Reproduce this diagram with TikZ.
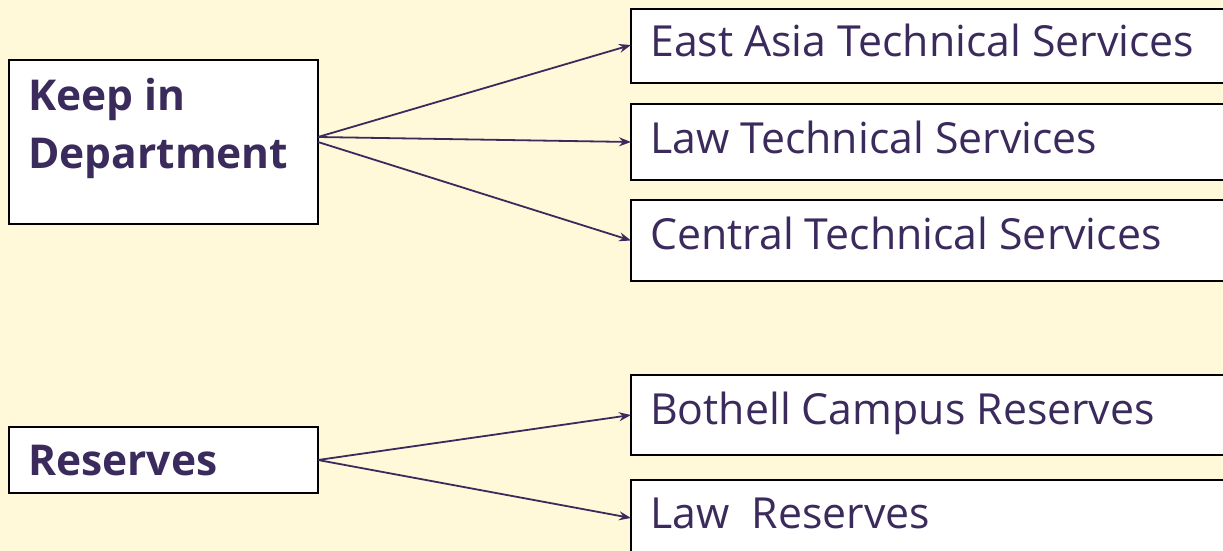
\documentclass[tikz,border=0pt]{standalone}
\usepackage{fontspec}
\setmainfont{Open Sans}
\usetikzlibrary{arrows.meta}
\definecolor{bg}{HTML}{FFF9D9}
\definecolor{ink}{HTML}{3B2A5C}
\tikzset{
  box/.style={draw=black, line width=1.8pt, fill=white, inner sep=0pt, outer sep=0pt},
  lbl/.style={anchor=base west, inner sep=0pt, text=ink, font=\fontsize{42.8}{50}\selectfont},
  blbl/.style={anchor=base west, inner sep=0pt, text=ink, font=\bfseries\fontsize{42.5}{50}\selectfont},
  conn/.style={draw=ink, line width=1.8pt, -{Stealth[length=12pt,width=9pt,inset=4pt]}}
}
\begin{document}
\begin{tikzpicture}[x=1pt,y=-1pt]
\clip (0,0) rectangle (1223,551);
\fill[bg] (0,0) rectangle (1223,551);
% left boxes
\node[box, minimum width=309pt, minimum height=164pt, anchor=north west] (keep) at (9,60) {};
\node[box, minimum width=309pt, minimum height=66pt, anchor=north west] (res) at (9,427) {};
% right boxes
\node[box, minimum width=610pt, minimum height=74pt, anchor=north west] (ea) at (631,9) {};
\node[box, minimum width=610pt, minimum height=76pt, anchor=north west] (law) at (631,104) {};
\node[box, minimum width=610pt, minimum height=81pt, anchor=north west] (cts) at (631,200) {};
\node[box, minimum width=610pt, minimum height=80pt, anchor=north west] (bcr) at (631,375) {};
\node[box, minimum width=610pt, minimum height=76pt, anchor=north west] (lr) at (631,480) {};
% texts
\node[blbl] (t1) at (28,110) {Keep in};
\node[blbl] (t2) at (28,168) {Department};
\node[blbl] (t3) at (28,475) {Reserves};
\node[lbl] (t4) at (650,57) {East Asia Technical Services};
\node[lbl] (t5) at (650,153) {Law Technical Services};
\node[lbl] (t6) at (650,249) {Central Technical Services};
\node[lbl] (t7) at (650,424) {Bothell Campus Reserves};
\node[lbl] (t8) at (650,528) {Law\ \ Reserves};
% connectors
\draw[conn] ([yshift=5pt]keep.east) -- ([yshift=1pt]ea.west);
\draw[conn] ([yshift=5pt]keep.east) -- (law.west);
\draw[conn] (keep.east) -- (cts.west);
\draw[conn] (res.east) -- (bcr.west);
\draw[conn] (res.east) -- (lr.west);
\end{tikzpicture}
\end{document}
